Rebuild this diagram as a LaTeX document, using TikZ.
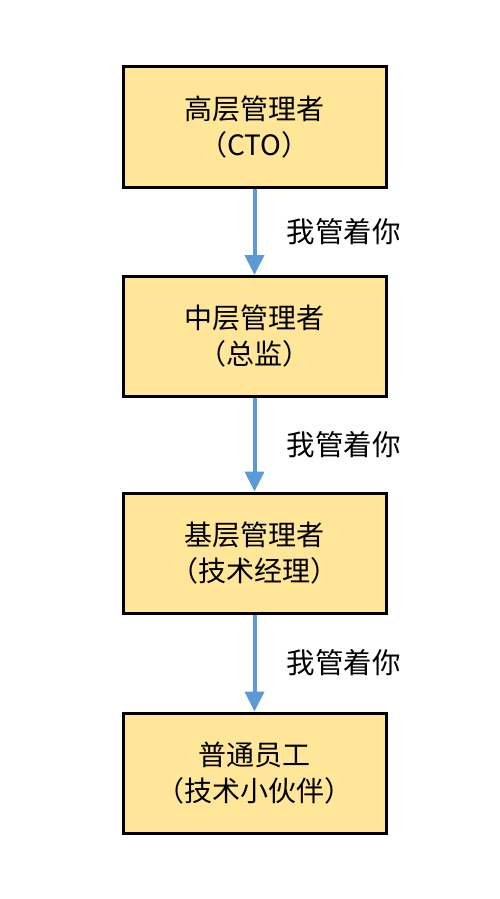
\documentclass[tikz,border=0pt]{standalone}
\usepackage{fontspec}
\setmainfont{Noto Sans CJK SC}
\usetikzlibrary{arrows.meta}
\definecolor{boxfill}{HTML}{FFE699}
\definecolor{arrowblue}{HTML}{5B9BD5}
\tikzset{
  rolebox/.style={draw=black, line width=3pt, fill=boxfill, minimum width=263pt, minimum height=120pt, inner sep=0pt, align=center, font=\fontsize{28}{36}\selectfont},
  flow/.style={draw=arrowblue, line width=4pt, -{Triangle[width=19pt,length=20pt]}},
  lbl/.style={font=\fontsize{28.5}{30}\selectfont, inner sep=0pt}
}
\begin{document}
\begin{tikzpicture}[x=1pt,y=-1pt]
\useasboundingbox (0,0) rectangle (500,899);
\node[rolebox] (a) at (254.5,127) {高层管理者\\（CTO）};
\node[rolebox] (b) at (254.5,336.5) {中层管理者\\（总监）};
\node[rolebox] (c) at (254.5,553) {基层管理者\\（技术经理）};
\node[rolebox] (d) at (254.5,773) {普通员工\\（技术小伙伴）};
\draw[flow] (a.south) -- (b.north) node[midway, right=30pt, lbl] {我管着你};
\draw[flow] (b.south) -- (c.north) node[midway, right=30pt, lbl] {我管着你};
\draw[flow] (c.south) -- (d.north) node[midway, right=30pt, lbl] {我管着你};
\end{tikzpicture}
\end{document}
